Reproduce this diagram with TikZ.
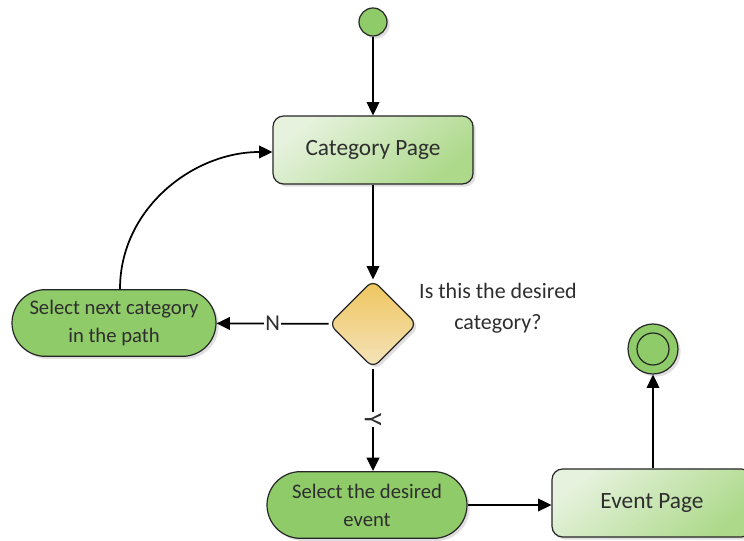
\documentclass[tikz,border=0pt]{standalone}
\usepackage{fontspec}
\setmainfont{Carlito}
\usetikzlibrary{shapes.geometric,arrows.meta,shadows}
\definecolor{pagetop}{HTML}{E6F2DD}
\definecolor{pagebot}{HTML}{ADD98B}
\definecolor{actgreen}{HTML}{8FCB69}
\definecolor{decitop}{HTML}{EEC55C}
\definecolor{decibot}{HTML}{F5E4BC}
\definecolor{txtgray}{HTML}{2E2E2E}
\begin{document}
\begin{tikzpicture}[x=0.75pt,y=-0.75pt,
    shade/.style={drop shadow={shadow xshift=2pt,shadow yshift=-2pt,opacity=0.25}},
    pagebox/.style={draw=black!85,line width=0.9pt,rounded corners=8pt,shade,
        top color=pagetop,bottom color=pagebot,shading angle=40,
        minimum width=150pt,minimum height=51pt,text=txtgray,font=\fontsize{17.5}{20}\selectfont},
    actbox/.style={draw=black!85,line width=0.9pt,rounded corners=25pt,shade,fill=actgreen,
        minimum height=50pt,align=center,text=txtgray,font=\fontsize{15.5}{21}\selectfont},
    decision/.style={diamond,draw=black!85,line width=0.9pt,rounded corners=6pt,shade,
        top color=decitop,bottom color=decibot,minimum width=66pt,minimum height=66pt,inner sep=0pt},
    flow/.style={-{Triangle[length=10pt,width=9.5pt]},line width=1.3pt},
    lbl/.style={fill=white,inner sep=1pt,text=txtgray,font=\fontsize{17}{18}\selectfont}]
    \useasboundingbox (0,0) rectangle (744,541);

    % nodes
    \node[circle,draw=black!85,line width=0.9pt,fill=actgreen,shade,minimum size=21pt,inner sep=0pt] (start) at (373,22) {};
    \node[pagebox] (catpage) at (373,150) {Category Page};
    \node[decision] (isdesired) at (373,324) {};
    \node[align=center,text=txtgray,font=\fontsize{16.5}{23}\selectfont] (question) at (498,308) {Is this the desired\\category?};
    \node[actbox,minimum width=153pt] (nextcat) at (114,323) {Select next category\\in the path};
    \node[actbox,minimum width=150pt] (selevent) at (367,505) {Select the desired\\event};
    \node[pagebox] (evpage) at (652,503) {Event Page};
    \node[circle,draw=black!85,line width=0.9pt,fill=actgreen,shade,minimum size=37.5pt,inner sep=0pt] (stop) at (653,349) {};
    \node[circle,draw=black!85,line width=0.9pt,fill=actgreen,minimum size=24pt,inner sep=0pt] (stopin) at (stop) {};

    % connectors
    \draw[flow] (start) -- (catpage);
    \draw[flow] (catpage) -- (isdesired);
    \draw[flow] (isdesired) -- node[lbl] {N} (nextcat);
    \draw[flow] (isdesired) -- node[lbl,rotate=-90,pos=0.5,font=\fontsize{19}{20}\selectfont] {Y} (selevent.north -| isdesired);
    \draw[flow] (selevent) -- (selevent -| evpage.west);
    \draw[flow] (evpage.north -| stop) -- (stop);
    \draw[flow] ([xshift=4.5pt]nextcat.north) to[out=90,in=180] ([yshift=-1.5pt]catpage.west);
\end{tikzpicture}
\end{document}
